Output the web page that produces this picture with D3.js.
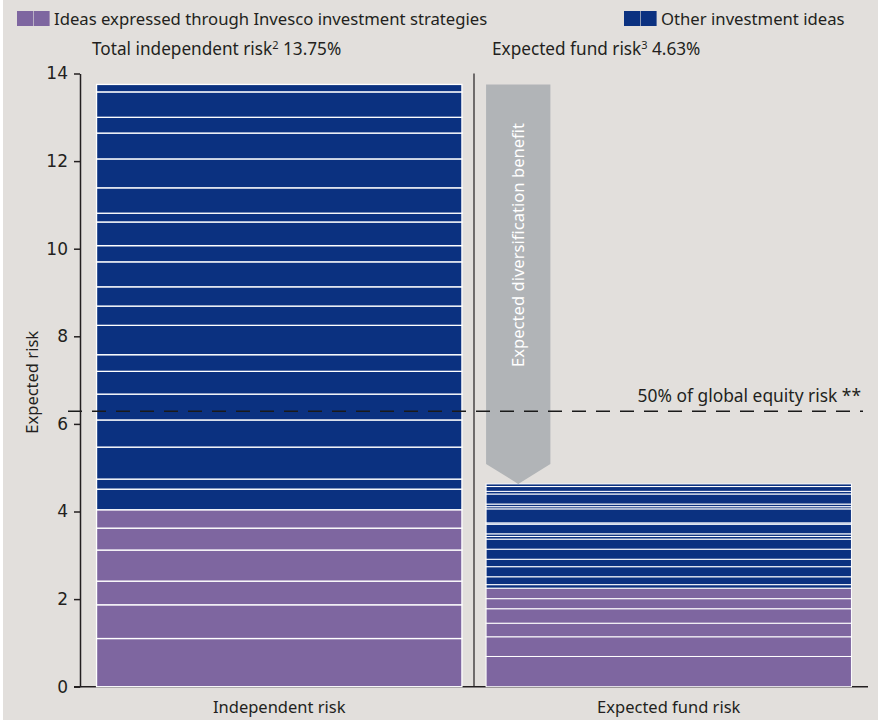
<!DOCTYPE html>
<html>
<head>
<meta charset="utf-8">
<script src="https://cdn.jsdelivr.net/npm/d3@7/dist/d3.min.js"></script>
<style>
    html, body { margin: 0; padding: 0; background: #ffffff; }
    svg { display: block; font-family: 'Noto Sans', 'DejaVu Sans', sans-serif; }
</style>
</head>
<body>
<div id="chart"></div>
<script>
(function () {
    'use strict';

    // ── data ─────────────────────────────────────────────────────────────────
    const categories = ['Independent risk', 'Expected fund risk'];

    // stacked slices, bottom to top
    const independentInvesco = [1.10, 0.77, 0.54, 0.71, 0.50, 0.42];
    const independentOther   = [0.47, 0.23, 0.73, 0.62, 0.59, 0.52, 0.38, 0.67, 0.44, 0.44,
                                0.57, 0.37, 0.54, 0.20, 0.58, 0.66, 0.59, 0.36, 0.58, 0.17];
    const fundInvesco = [0.69, 0.45, 0.31, 0.33, 0.23, 0.24];
    const fundOther   = [0.08, 0.18, 0.23, 0.17, 0.23, 0.23, 0.06, 0.06, 0.22, 0.03,
                         0.32, 0.05, 0.06, 0.23, 0.06, 0.11, 0.06];

    const yTicks = [0, 2, 4, 6, 8, 10, 12, 14];

    const totalIndependentRisk = 13.75;
    const expectedFundRisk     = 4.63;
    const globalEquityHalf     = 6.29;

    const legendLabels = ['Ideas expressed through Invesco investment strategies', 'Other investment ideas'];

    // ── colours ──────────────────────────────────────────────────────────────
    const PURPLE = '#7e66a0';
    const BLUE   = '#0b3180';
    const GREY   = '#b1b4b7';
    const INK    = '#231f20';
    const BG     = '#e2dfdc';

    const W = 883, H = 720;

    const svg = d3.select('#chart').append('svg')
        .attr('width', W).attr('height', H);

    svg.append('rect')
        .attr('x', 3).attr('y', 0)
        .attr('width', 875).attr('height', H)
        .attr('fill', BG);

    // ── scales ───────────────────────────────────────────────────────────────
    const y = d3.scaleLinear().domain([0, 14]).range([686.7, 73.5]);
    const x = d3.scaleBand().domain(categories)
        .range([80, 868])
        .paddingInner(0.062)
        .paddingOuter(0.0425);

    // build stacked slices for each bar
    function stackSlices(cat, invesco, other) {
        const out = [];
        let acc = 0;
        invesco.forEach(v => { out.push({ cat, y0: acc, y1: acc + v, color: PURPLE }); acc += v; });
        other.forEach(v => { out.push({ cat, y0: acc, y1: acc + v, color: BLUE }); acc += v; });
        return out;
    }
    const slices = stackSlices(categories[0], independentInvesco, independentOther)
        .concat(stackSlices(categories[1], fundInvesco, fundOther));

    // ── baseline + divider ───────────────────────────────────────────────────
    svg.append('line')
        .attr('x1', 74).attr('x2', 868)
        .attr('y1', y(0)).attr('y2', y(0))
        .attr('stroke', INK).attr('stroke-width', 1.5);

    const divX = x(categories[1]) - x.step() * x.paddingInner() / 2;
    svg.append('line')
        .attr('x1', divX).attr('x2', divX)
        .attr('y1', y(14)).attr('y2', y(0))
        .attr('stroke', INK).attr('stroke-width', 1.2);

    // ── bars ─────────────────────────────────────────────────────────────────
    svg.append('g')
        .selectAll('rect')
        .data(slices)
        .enter()
        .append('rect')
        .attr('x', d => x(d.cat))
        .attr('width', x.bandwidth())
        .attr('y', d => y(d.y1))
        .attr('height', d => y(d.y0) - y(d.y1))
        .attr('fill', d => d.color)
        .attr('stroke', '#ffffff')
        .attr('stroke-width', d => d.cat === categories[1] ? 1 : 1.3);

    // ── diversification arrow ────────────────────────────────────────────────
    const ax0 = x(categories[1]);
    const ax1 = ax0 + x.bandwidth() * 0.176;
    const aTop = y(totalIndependentRisk);
    const aTip = y(expectedFundRisk);
    const aShoulder = aTip - 20;
    svg.append('path')
        .attr('d', `M${ax0},${aTop}H${ax1}V${aShoulder}L${(ax0 + ax1) / 2},${aTip}L${ax0},${aShoulder}Z`)
        .attr('fill', GREY);

    svg.append('text')
        .attr('transform', `translate(${(ax0 + ax1) / 2 + 6},${y(7.3)}) rotate(-90)`)
        .attr('fill', '#ffffff')
        .style('font-size', '16.6px')
        .text('Expected diversification benefit');

    // ── 50% global equity line ───────────────────────────────────────────────
    svg.append('line')
        .attr('x1', 68).attr('x2', 863)
        .attr('y1', y(globalEquityHalf)).attr('y2', y(globalEquityHalf))
        .attr('stroke', '#1a1a1a').attr('stroke-width', 1.6)
        .attr('stroke-dasharray', '14,10');

    svg.append('text')
        .attr('x', 861).attr('y', y(globalEquityHalf) - 9)
        .attr('text-anchor', 'end')
        .attr('fill', INK)
        .style('font-size', '17.4px')
        .text('50% of global equity risk **');

    // ── y axis ───────────────────────────────────────────────────────────────
    const yAxis = d3.axisLeft(y).tickValues(yTicks).tickSize(6).tickSizeOuter(0).tickPadding(6);
    const gy = svg.append('g')
        .attr('transform', 'translate(80,0)')
        .call(yAxis);
    gy.select('.domain').attr('stroke', INK).attr('stroke-width', 1.5);
    gy.selectAll('.tick line').attr('stroke', INK).attr('stroke-width', 1.5);
    gy.selectAll('.tick text')
        .attr('fill', INK)
        .style('font-size', '17px')
        .style('font-family', "'DejaVu Sans', sans-serif");

    svg.append('text')
        .attr('transform', `translate(38,${y(6.95)}) rotate(-90)`)
        .attr('text-anchor', 'middle')
        .attr('fill', INK)
        .style('font-size', '16.5px')
        .text('Expected risk');

    // ── category labels ──────────────────────────────────────────────────────
    svg.append('g')
        .selectAll('text')
        .data(categories)
        .enter()
        .append('text')
        .attr('x', d => x(d) + x.bandwidth() / 2)
        .attr('y', 713)
        .attr('text-anchor', 'middle')
        .attr('fill', INK)
        .style('font-size', '16.5px')
        .text(d => d);

    // ── legend ───────────────────────────────────────────────────────────────
    const legendX = [17, 624];
    const legendColors = [PURPLE, BLUE];
    const lg = svg.append('g').selectAll('g')
        .data(legendLabels)
        .enter()
        .append('g')
        .attr('transform', (d, i) => `translate(${legendX[i]},11)`);
    lg.append('rect')
        .attr('width', 16).attr('height', 15)
        .attr('fill', (d, i) => legendColors[i]);
    lg.append('rect')
        .attr('x', 16.6).attr('width', 16).attr('height', 15)
        .attr('fill', (d, i) => legendColors[i]);
    lg.append('text')
        .attr('x', 37).attr('y', 14)
        .attr('fill', INK)
        .style('font-size', '16.7px')
        .text(d => d);

    // ── totals ───────────────────────────────────────────────────────────────
    function totalLabel(xPos, label, sup, value) {
        const t = svg.append('text')
            .attr('x', xPos).attr('y', 55)
            .attr('fill', INK)
            .style('font-size', '17.2px');
        t.append('tspan').text(label);
        t.append('tspan').attr('dy', -6).style('font-size', '11px').text(sup);
        t.append('tspan').attr('dy', 6).text(' ' + value.toFixed(2) + '%');
    }
    totalLabel(92, 'Total independent risk', '2', totalIndependentRisk);
    totalLabel(492, 'Expected fund risk', '3', expectedFundRisk);
})();
</script>
</body>
</html>
